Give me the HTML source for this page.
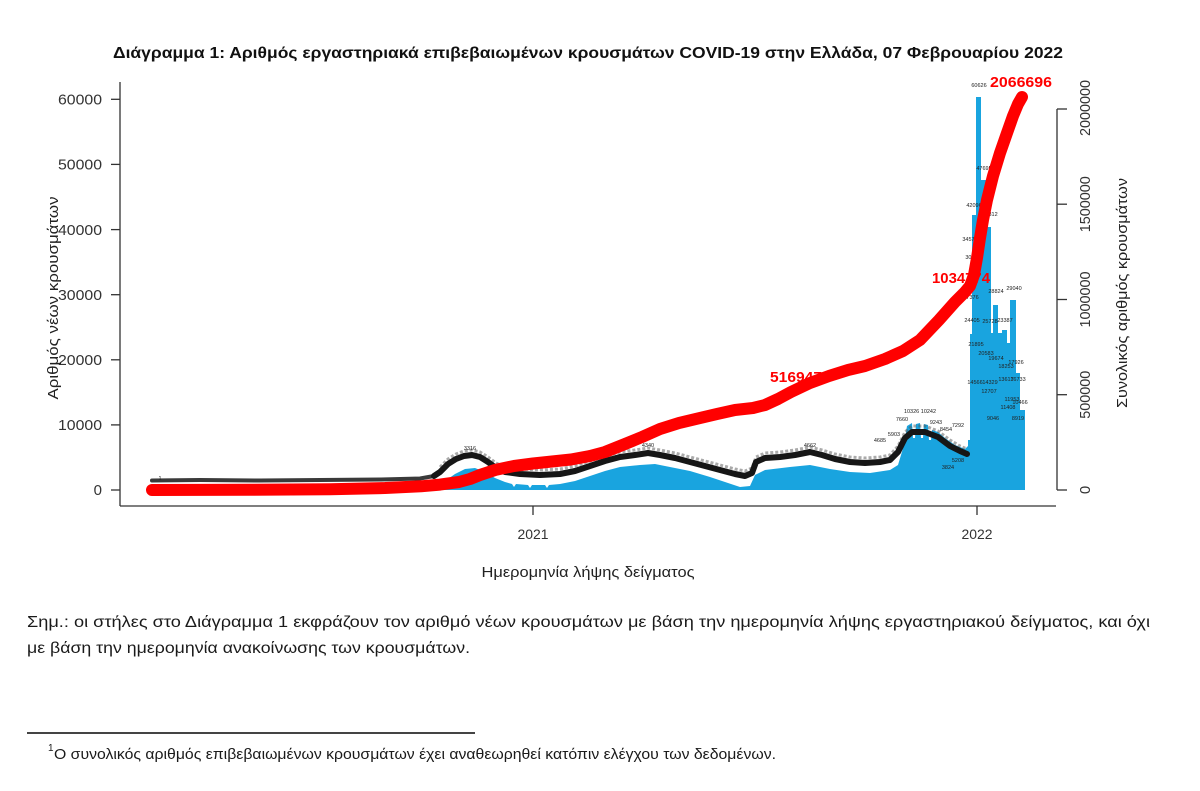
<!DOCTYPE html>
<html>
<head>
<meta charset="utf-8">
<style>
  html,body{margin:0;padding:0;background:#fff;}
  svg{display:block;}
  text{font-family:"Liberation Sans","Noto Sans CJK SC",sans-serif;}
</style>
</head>
<body>
<svg width="1200" height="791" viewBox="0 0 1200 791" xmlns="http://www.w3.org/2000/svg">
  <rect x="0" y="0" width="1200" height="791" fill="#fff"/>

  <!-- Title -->
  <text x="588" y="58" text-anchor="middle" font-size="16" font-weight="bold" fill="#111" textLength="950" lengthAdjust="spacingAndGlyphs">Διάγραμμα 1: Αριθμός εργαστηριακά επιβεβαιωμένων κρουσμάτων COVID-19 στην Ελλάδα, 07 Φεβρουαρίου 2022</text>

  <!-- Bars (daily new cases) -->
  <path fill="#19a4df" d="M152,490 L152,489.5 L300,489.3 L380,488.5 L420,487.5 L435,486 L445,481 L455,474 L465,469 L475,468 L485,472 L495,478 L505,482 L512,484 L514,487 L516,484 L528,485 L530,488 L532,485 L545,485 L547,488 L549,485 L560,484 L575,481 L590,476 L605,471 L620,467 L640,465 L655,464 L670,467 L690,471 L710,477 L728,483 L740,487 L750,486 L755,475 L765,470 L790,467 L810,465 L830,469 L850,472 L870,473 L890,470 L898,465 L904,445 L907,426 L912,423 L913,438 L915,438 L916,424 L920,423 L921,438 L923,438 L924,424 L928,425 L929,440 L931,440 L932,430 L938,432 L945,438 L955,445 L965,449 L968,446 L968,440 L970,440 L970,334 L972,334 L972,215 L976,215 L976,97 L981,97 L981,180 L987,180 L987,227 L991,227 L991,333 L993,333 L993,305 L998,305 L998,333 L1002,333 L1002,330 L1007,330 L1007,343 L1010,343 L1010,300 L1016,300 L1016,373 L1020,373 L1020,410 L1025,410 L1025,490 Z"/>

  <!-- Black value-label band -->
  <polyline fill="none" stroke="#3a3a3a" stroke-width="4" stroke-linejoin="round" stroke-linecap="round"
    points="152,480.5 200,480 260,480.5 320,480 380,479.5 420,478.5 434,476"/>
  <polyline fill="none" stroke="#555" stroke-opacity="0.5" stroke-width="3" stroke-dasharray="3 2" stroke-linejoin="round"
    points="440,467 448,459 456,454 464,451 472,450 480,452 488,457 496,463 505,467 520,469 540,470 560,469 575,466 590,461 605,456 620,452 635,450 648,448 660,450 675,453 690,457 705,461 720,465 735,469 745,471 752,468 756,457 765,453 780,452 795,450 810,447 822,450 835,454 850,457 865,458 880,457 890,455 898,446 905,432 912,426 925,426 938,431 950,440 960,446 967,449"/>
  <polyline fill="none" stroke="#161616" stroke-width="6" stroke-linejoin="round" stroke-linecap="round"
    points="434,476 440,472 448,464 456,459 464,456 472,455 480,457 488,462 496,468 505,472 520,474 540,475 560,474 575,471 590,466 605,461 620,457 635,455 648,453 660,455 675,458 690,462 705,466 720,470 735,474 745,476 752,473 756,462 765,458 780,457 795,455 810,452 822,455 835,459 850,462 865,463 880,462 890,460 898,452 905,438 912,432 925,432 938,437 950,446 960,451 967,454"/>

  <!-- tiny value labels -->
  <g font-size="5.5" fill="#222" text-anchor="middle">
    <text x="979" y="87">60626</text>
    <text x="984" y="170">47695</text>
    <text x="974" y="207">42096</text>
    <text x="990" y="216">40312</text>
    <text x="970" y="241">34573</text>
    <text x="973" y="259">30624</text>
    <text x="971" y="299">27376</text>
    <text x="996" y="293">28824</text>
    <text x="1014" y="290">29040</text>
    <text x="972" y="322">24405</text>
    <text x="990" y="323">25728</text>
    <text x="1005" y="322">23387</text>
    <text x="976" y="346">21895</text>
    <text x="986" y="355">20583</text>
    <text x="996" y="360">19674</text>
    <text x="1006" y="368">18253</text>
    <text x="1016" y="364">17926</text>
    <text x="1018" y="381">16733</text>
    <text x="975" y="384">14566</text>
    <text x="990" y="384">14329</text>
    <text x="1006" y="381">13617</text>
    <text x="989" y="393">12707</text>
    <text x="1012" y="401">11953</text>
    <text x="1020" y="404">10466</text>
    <text x="993" y="420">9046</text>
    <text x="1018" y="420">8919</text>
    <text x="1008" y="409">11408</text>
    <text x="920" y="413">10326 10242</text>
    <text x="936" y="424">9243</text>
    <text x="946" y="431">8454</text>
    <text x="958" y="427">7292</text>
    <text x="902" y="421">7660</text>
    <text x="894" y="436">5903</text>
    <text x="880" y="442">4685</text>
    <text x="958" y="462">5208</text>
    <text x="948" y="469">3824</text>
    <text x="810" y="447">4662</text>
    <text x="648" y="447">4340</text>
    <text x="470" y="450">3316</text>
    <text x="160" y="480">1</text>
  </g>

  <!-- Red labels (under line) -->
  <g font-size="15" font-weight="bold" fill="#f00">
    <text x="770" y="382" textLength="52" lengthAdjust="spacingAndGlyphs">516947</text>
    <text x="932" y="283" textLength="58" lengthAdjust="spacingAndGlyphs">1034774</text>
    <text x="990" y="87" textLength="62" lengthAdjust="spacingAndGlyphs">2066696</text>
  </g>

  <!-- Red cumulative line -->
  <polyline fill="none" stroke="#f00" stroke-width="12" stroke-linejoin="round" stroke-linecap="round"
    points="152,490 250,489.8 330,489.2 385,488 421,486.3 440,484.6 459,482 470,479 480,475 495,470 514,466 533,463.5 552,461.5 571,459.5 590,456 605,452 625,444 642,437 660,429 679,423 700,418 717,414 735,410 753,408 765,405 778,399 791,392 810,383 829,376 848,370 865,366 885,359 903,351 920,340 939,320 955,302 965,292 970,286 974,275 977,258 980,238 983,220 987,200 993,176 1000,153 1007,133 1013,116 1018,104 1022,97"/>

  <!-- Axes -->
  <g stroke="#333" stroke-width="1.3" fill="none">
    <line x1="120" y1="82" x2="120" y2="506"/>
    <line x1="120" y1="506" x2="1056" y2="506"/>
    <line x1="111" y1="99.3" x2="120" y2="99.3"/>
    <line x1="111" y1="164.4" x2="120" y2="164.4"/>
    <line x1="111" y1="229.6" x2="120" y2="229.6"/>
    <line x1="111" y1="294.7" x2="120" y2="294.7"/>
    <line x1="111" y1="359.8" x2="120" y2="359.8"/>
    <line x1="111" y1="424.9" x2="120" y2="424.9"/>
    <line x1="111" y1="490" x2="120" y2="490"/>
    <line x1="533" y1="506" x2="533" y2="515"/>
    <line x1="977" y1="506" x2="977" y2="515"/>
    <line x1="1057" y1="109" x2="1057" y2="490"/>
    <line x1="1057" y1="109" x2="1067" y2="109"/>
    <line x1="1057" y1="204.2" x2="1067" y2="204.2"/>
    <line x1="1057" y1="299.5" x2="1067" y2="299.5"/>
    <line x1="1057" y1="394.7" x2="1067" y2="394.7"/>
    <line x1="1057" y1="490" x2="1067" y2="490"/>
  </g>

  <!-- Left tick labels -->
  <g font-size="15" fill="#333" text-anchor="end">
    <text x="102" y="104.5" textLength="44" lengthAdjust="spacingAndGlyphs">60000</text>
    <text x="102" y="169.6" textLength="44" lengthAdjust="spacingAndGlyphs">50000</text>
    <text x="102" y="234.8" textLength="44" lengthAdjust="spacingAndGlyphs">40000</text>
    <text x="102" y="299.9" textLength="44" lengthAdjust="spacingAndGlyphs">30000</text>
    <text x="102" y="365" textLength="44" lengthAdjust="spacingAndGlyphs">20000</text>
    <text x="102" y="430.1" textLength="44" lengthAdjust="spacingAndGlyphs">10000</text>
    <text x="102" y="495.2">0</text>
  </g>

  <!-- Left axis title -->
  <text transform="translate(58,298) rotate(-90)" text-anchor="middle" font-size="15" fill="#222" textLength="203" lengthAdjust="spacingAndGlyphs">Αριθμός νέων κρουσμάτων</text>

  <!-- Right tick labels (rotated, reading bottom-to-top) -->
  <g font-size="15" fill="#333" text-anchor="middle">
    <text transform="translate(1090,108) rotate(-90)" textLength="56" lengthAdjust="spacingAndGlyphs">2000000</text>
    <text transform="translate(1090,204.2) rotate(-90)" textLength="56" lengthAdjust="spacingAndGlyphs">1500000</text>
    <text transform="translate(1090,299.5) rotate(-90)" textLength="56" lengthAdjust="spacingAndGlyphs">1000000</text>
    <text transform="translate(1090,394.7) rotate(-90)" textLength="48" lengthAdjust="spacingAndGlyphs">500000</text>
    <text transform="translate(1090,490) rotate(-90)">0</text>
  </g>

  <!-- Right axis title -->
  <text transform="translate(1127,293) rotate(-90)" text-anchor="middle" font-size="15" fill="#222" textLength="230" lengthAdjust="spacingAndGlyphs">Συνολικός αριθμός κρουσμάτων</text>

  <!-- X tick labels -->
  <g font-size="14" fill="#333" text-anchor="middle">
    <text x="533" y="539" textLength="31" lengthAdjust="spacingAndGlyphs">2021</text>
    <text x="977" y="539" textLength="31" lengthAdjust="spacingAndGlyphs">2022</text>
  </g>

  <!-- X axis title -->
  <text x="588" y="577" text-anchor="middle" font-size="15" fill="#222" textLength="213" lengthAdjust="spacingAndGlyphs">Ημερομηνία λήψης δείγματος</text>

  <!-- Note paragraph -->
  <g font-size="16" fill="#1a1a1a">
    <text x="27" y="627" textLength="1123" lengthAdjust="spacingAndGlyphs">Σημ.:  οι στήλες στο Διάγραμμα 1 εκφράζουν τον αριθμό νέων κρουσμάτων με βάση την ημερομηνία λήψης εργαστηριακού δείγματος, και όχι</text>
    <text x="27" y="653" textLength="443" lengthAdjust="spacingAndGlyphs">με βάση την ημερομηνία ανακοίνωσης των κρουσμάτων.</text>
  </g>

  <!-- Footnote -->
  <line x1="27" y1="733" x2="475" y2="733" stroke="#444" stroke-width="2"/>
  <text x="48" y="751" font-size="10" fill="#1a1a1a">1</text>
  <text x="54" y="759" font-size="14.5" fill="#1a1a1a" textLength="722" lengthAdjust="spacingAndGlyphs">Ο συνολικός αριθμός επιβεβαιωμένων κρουσμάτων έχει αναθεωρηθεί κατόπιν ελέγχου των δεδομένων.</text>
</svg>
</body>
</html>
